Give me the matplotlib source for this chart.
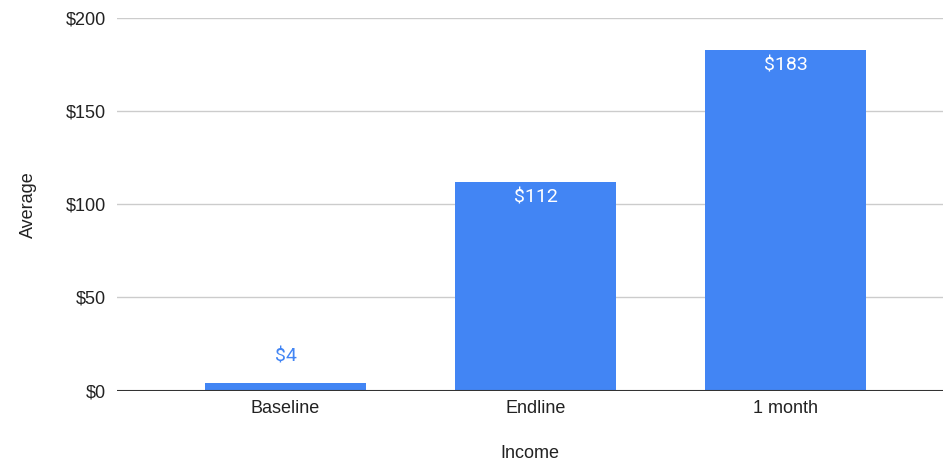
import matplotlib.pyplot as plt

categories = ['Baseline', 'Endline', '1 month']
averages = [4, 112, 183]
y_ticks = [0, 50, 100, 150, 200]
y_tick_labels = ['$0', '$50', '$100', '$150', '$200']

bar_color = '#4285F4'

fig = plt.figure(figsize=(9.43, 4.65), dpi=100)
ax = fig.add_axes([117 / 943, 74.5 / 465, 826 / 943, 372.5 / 465])

x = range(len(categories))
bars = ax.bar(x, averages, width=0.644, color=bar_color, zorder=3)

ax.set_xlim(-0.674, 2.63)
ax.set_ylim(0, 200)

# подписи значений: внутри высоких столбцов, над низкими
for rect, val in zip(bars, averages):
    cx = rect.get_x() + rect.get_width() / 2
    if val > 30:
        ax.annotate(f'${val}', (cx, val), xytext=(0, -16), textcoords='offset pixels',
                    ha='center', va='center', color='white', fontsize=14, family='Roboto')
    else:
        ax.annotate(f'${val}', (cx, val), xytext=(0, 27), textcoords='offset pixels',
                    ha='center', va='center', color=bar_color, fontsize=14, family='Roboto')

font = dict(family='Liberation Sans', fontsize=13, color='#222222')
ax.set_yticks(y_ticks)
ax.set_yticklabels(y_tick_labels, **font)
ax.set_xticks(list(x))
ax.set_xticklabels(categories, **font)
ax.tick_params(axis='both', length=0)
ax.tick_params(axis='y', pad=8)
ax.tick_params(axis='x', pad=7)

ax.grid(axis='y', color='#cccccc', linewidth=1, zorder=0)
ax.axhline(0, color='#333333', linewidth=1.5, zorder=4)
for s in ax.spines.values():
    s.set_visible(False)

ax.set_ylabel('Average', labelpad=21, **font)
ax.set_xlabel('Income', labelpad=20, **font)

fig.savefig('out.png', dpi=100)
